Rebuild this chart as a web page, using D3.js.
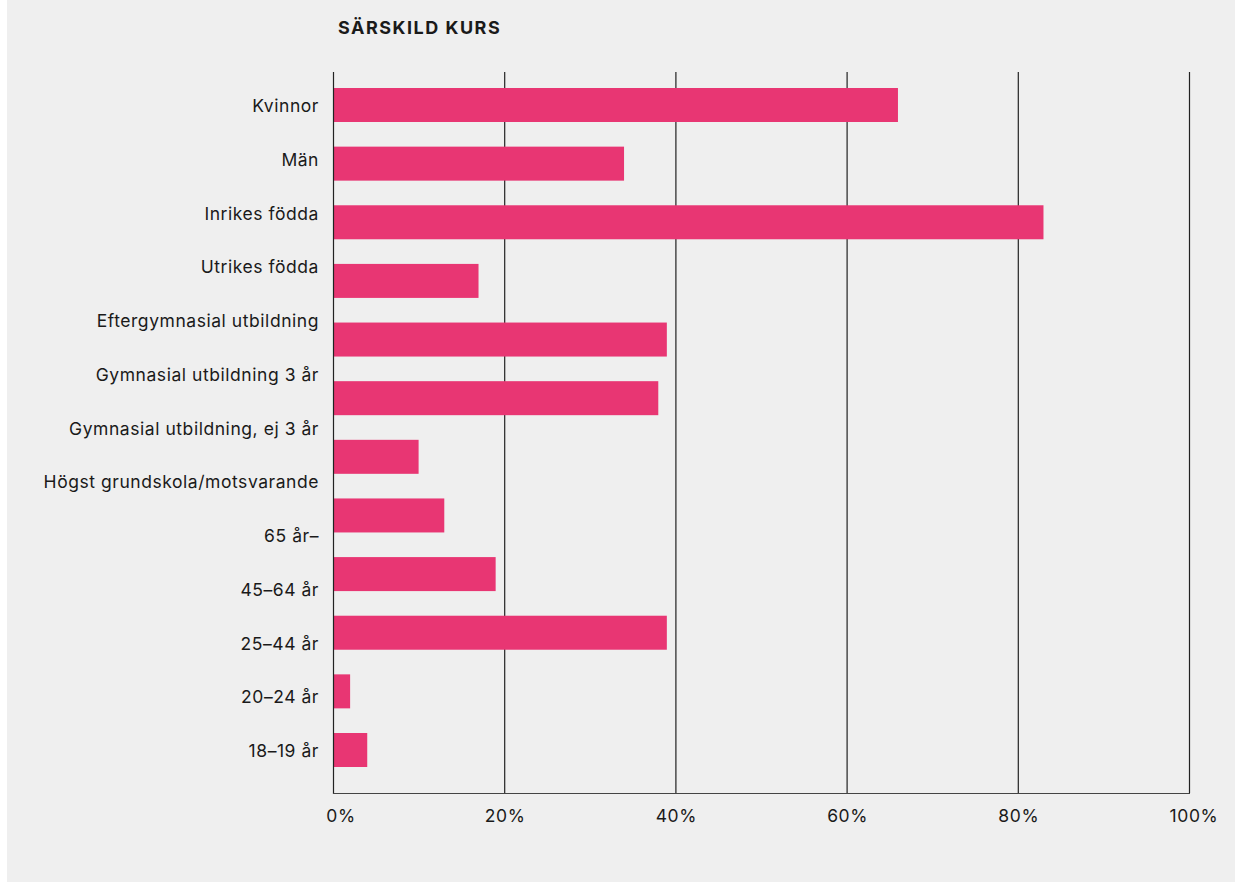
<!DOCTYPE html>
<html><head><meta charset="utf-8">
<script src="https://cdn.jsdelivr.net/npm/d3@7"></script>
<style>
html,body{margin:0;padding:0;background:#fff;}
svg{display:block;}
text{font-family:"Inter","Roboto",sans-serif;fill:#1a1a1a;}
</style></head><body>
<svg id="c" width="1235" height="883"></svg>
<script>
const title = "SÄRSKILD KURS";
const categories = ["Kvinnor","Män","Inrikes födda","Utrikes födda","Eftergymnasial utbildning","Gymnasial utbildning 3 år","Gymnasial utbildning, ej 3 år","Högst grundskola/motsvarande","65 år–","45–64 år","25–44 år","20–24 år","18–19 år"];
const values = [66, 34, 83, 17, 39, 38, 10, 13, 19, 39, 2, 4];
const ticks = [0, 20, 40, 60, 80, 100];

const svg = d3.select("#c");
svg.append("rect").attr("x",7).attr("y",0).attr("width",1228).attr("height",882).attr("fill","#efefef");

const x = d3.scaleLinear().domain([0,100]).range([333,1189]);
const yLab = d3.scalePoint().domain(categories).range([105,750]);
const yBar = d3.scalePoint().domain(d3.range(values.length)).range([105,750]);
const barH = 34;

// grid lines
svg.append("g").selectAll("line").data(ticks.slice(1)).join("line")
  .attr("x1",d=>x(d)+0.5).attr("x2",d=>x(d)+0.5).attr("y1",72).attr("y2",793)
  .attr("stroke","#222").attr("stroke-width",1.2);

// bars
svg.append("g").selectAll("rect").data(values).join("rect")
  .attr("x",x(0)).attr("y",(d,i)=>yBar(i)-barH/2)
  .attr("width",d=>x(d)-x(0)).attr("height",barH).attr("fill","#e83673");

// left axis line
svg.append("line").attr("x1",x(0)+0.5).attr("x2",x(0)+0.5).attr("y1",72).attr("y2",794)
  .attr("stroke","#222").attr("stroke-width",1.2);
// bottom axis line
svg.append("line").attr("x1",x(0)).attr("x2",x(100)+1).attr("y1",793.5).attr("y2",793.5)
  .attr("stroke","#444").attr("stroke-width",1.2);

// tick labels
svg.append("g").selectAll("text").data(ticks).join("text")
  .attr("x",d=>x(d)+(d===0?8:d===100?5:1)).attr("y",822).attr("text-anchor","middle")
  .attr("font-size",17.5).attr("letter-spacing",0.6).text(d=>d+"%");

// category labels
svg.append("g").selectAll("text").data(categories).join("text")
  .attr("x",319).attr("y",d=>yLab(d)+7).attr("text-anchor","end")
  .attr("font-size",17.5).attr("letter-spacing",0.55).text(d=>d);

// title
svg.append("text").attr("x",338).attr("y",34).attr("font-size",18).attr("font-weight",700)
  .attr("letter-spacing",1.5).text(title);
</script>
</body></html>
